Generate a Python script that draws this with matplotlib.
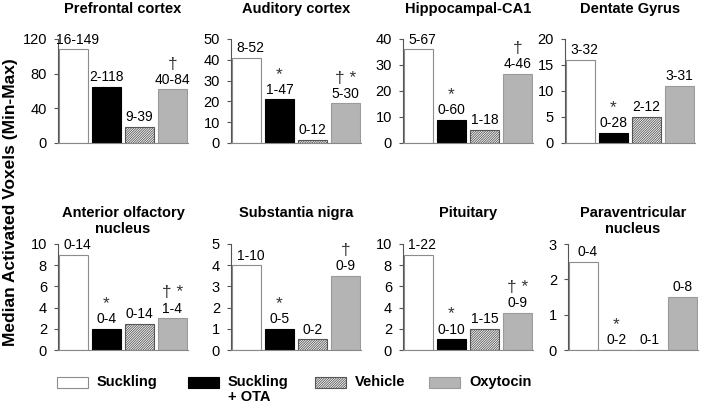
import matplotlib.pyplot as plt
from matplotlib.patches import Rectangle

plt.rcParams['font.family'] = ['Liberation Sans', 'DejaVu Sans']
plt.rcParams['hatch.linewidth'] = 0.6

# Data
groups = ['Suckling', 'Suckling\n+ OTA', 'Vehicle', 'Oxytocin']
regions = ['Prefrontal cortex', 'Auditory cortex', 'Hippocampal-CA1', 'Dentate Gyrus',
           'Anterior olfactory\nnucleus', 'Substantia nigra', 'Pituitary',
           'Paraventricular\nnucleus']
medians = [
    [108, 65, 19, 62],
    [41, 21, 1.5, 19],
    [36, 9, 5, 26.5],
    [16, 2, 5, 11],
    [9, 2, 2.5, 3],
    [4, 1, 0.5, 3.5],
    [9, 1, 2, 3.5],
    [2.5, 0, 0, 1.5],
]
ranges = [
    ['16-149', '2-118', '9-39', '40-84'],
    ['8-52', '1-47', '0-12', '5-30'],
    ['5-67', '0-60', '1-18', '4-46'],
    ['3-32', '0-28', '2-12', '3-31'],
    ['0-14', '0-4', '0-14', '1-4'],
    ['1-10', '0-5', '0-2', '0-9'],
    ['1-22', '0-10', '1-15', '0-9'],
    ['0-4', '0-2', '0-1', '0-8'],
]
marks = [
    ['', '', '', '\u2020'],
    ['', '*', '', '\u2020 *'],
    ['', '*', '', '\u2020'],
    ['', '*', '', ''],
    ['', '*', '', '\u2020 *'],
    ['', '*', '', '\u2020'],
    ['', '*', '', '\u2020 *'],
    ['', '*', '', ''],
]
ymax = [120, 50, 40, 20, 10, 5, 10, 3]
ystep = [40, 10, 10, 5, 2, 1, 2, 1]

faces = ['white', 'black', 'white', '#b4b4b4']
edges = ['#8c8c8c', 'black', '#555555', '#9a9a9a']
hatches = [None, None, '//////////////', None]

fig = plt.figure(figsize=(7.2, 4.05), dpi=100)

lefts = [[58, 231, 403, 565], [58, 231, 403, 568]]
rows = [(143, 104), (350, 106)]
W, H = 720, 405

for i, reg in enumerate(regions):
    r, c = divmod(i, 4)
    x0 = lefts[r][c]
    y0, h = rows[r]
    ax = fig.add_axes([x0 / W, 1 - y0 / H, 130 / W, h / H])
    for j in range(4):
        ax.bar(j, medians[i][j], width=0.9, color=faces[j], edgecolor=edges[j],
               hatch=hatches[j], linewidth=0.8)
        # first label nudged right so it clears the axis
        xl = j + (0.12 if j == 0 else 0)
        ax.text(xl, medians[i][j] + ymax[i] * 0.025, ranges[i][j], ha='center',
                va='bottom', fontsize=10)
        if marks[i][j]:
            ax.text(j, medians[i][j] + ymax[i] * 0.17, marks[i][j], ha='center',
                    va='bottom', fontsize=12.5, color='#333333')
    ax.set_xlim(-0.47, 3.47)
    ax.set_ylim(0, ymax[i])
    ax.set_yticks(range(0, ymax[i] + 1, ystep[i]))
    ax.set_xticks([])
    for s in ['top', 'right']:
        ax.spines[s].set_visible(False)
    ax.spines['left'].set_color('#555555')
    ax.spines['bottom'].set_color('#888888')
    ax.tick_params(axis='y', length=3, width=0.8, color='#555555', labelsize=10.5,
                   pad=5)
    ax.patch.set_visible(False)
    ax.text(0.5, 1.36, reg, transform=ax.transAxes, ha='center', va='top',
            fontsize=10.5, fontweight='bold')

fig.text(0.014, 0.5, 'Median Activated Voxels (Min-Max)', rotation=90,
         ha='center', va='center', fontsize=12.5, fontweight='bold')

# legend drawn by hand so the two-line label hangs below its box
leg_x = [57, 188, 315, 429]
for j, g in enumerate(groups):
    fig.add_artist(Rectangle((leg_x[j] / W, 1 - 388 / H), 31 / W, 11 / H,
                             facecolor=faces[j], edgecolor=edges[j],
                             hatch=hatches[j], linewidth=0.8,
                             transform=fig.transFigure))
    fig.text((leg_x[j] + 40) / W, 1 - 375 / H, g, ha='left', va='top',
             fontsize=10.5, fontweight='bold', linespacing=1.1)

fig.savefig('out.png', dpi=100)
